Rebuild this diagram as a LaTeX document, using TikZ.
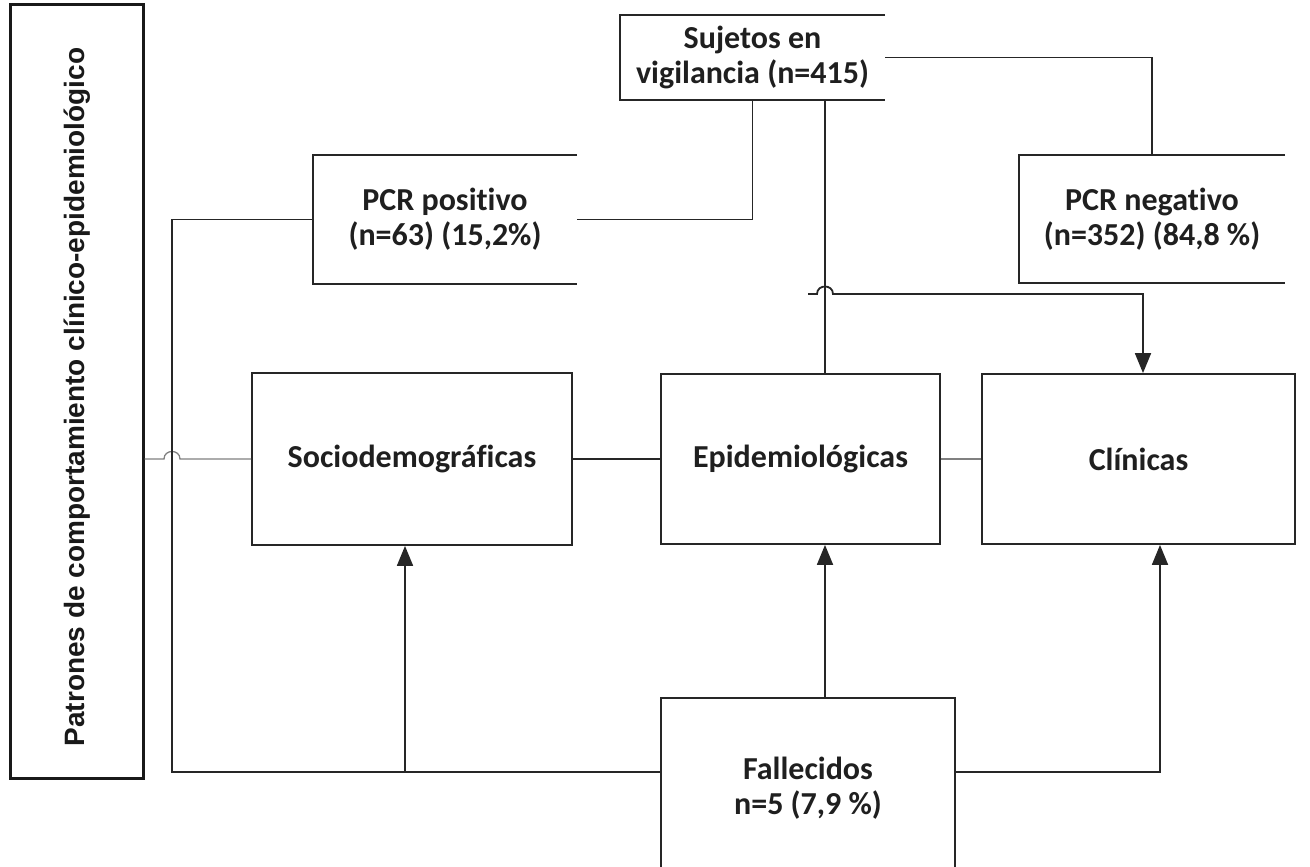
\documentclass[tikz,border=0pt]{standalone}
\usepackage{fontspec}
\setmainfont{Carlito}[Ligatures=NoCommon]
\newfontfamily\arialfont{Liberation Sans}
\usetikzlibrary{arrows.meta}

\begin{document}
\begin{tikzpicture}[x=1pt,y=-1pt,
  box/.style={draw=black!85, line width=1.8pt, fill=white, inner sep=0pt,
    align=center, font=\fontsize{32}{35}\selectfont\bfseries, text=black!88},
  openbox/.style={inner sep=0pt, align=center,
    font=\fontsize{32}{35}\selectfont\bfseries, text=black!88},
  edge/.style={draw=black!85, line width=1.8pt},
  outline/.style={draw=black!85, line width=1.8pt},
  faint/.style={draw=black!50, line width=1.3pt},
  arr/.style={-{Triangle[width=16pt,length=20pt]}}]

\useasboundingbox (0,0) rectangle (1310,867);

% columns and rows used by the connectors
\coordinate (c172) at (172,0);
\coordinate (c405) at (405,0);
\coordinate (c825) at (825,0);
\coordinate (c1143) at (1143,0);
\coordinate (c1160) at (1160,0);
\coordinate (r294) at (0,294);
\coordinate (r772) at (0,772);

% title box
\node[draw=black!90, line width=3pt, minimum width=133pt, minimum height=773pt, inner sep=0pt]
  (lbox) at (76.5,391.5) {};
\node[rotate=90, font=\arialfont\bfseries\fontsize{28}{32}\selectfont, text=black!90]
  (ltext) at (77,397) {Patrones de comportamiento clínico-epidemiológico};

% boxes with an open right side
\node[openbox, minimum width=265pt, minimum height=85pt] (suj) at (752.5,57.5)
  {Sujetos en\\vigilancia (n=415)};
\draw[outline] (suj.north east) -- (suj.north west) -- (suj.south west) -- (suj.south east);

\node[openbox, minimum width=264pt, minimum height=129pt] (pcrp) at (445,219.5)
  {PCR positivo\\(n=63) (15,2\%)};
\draw[outline] (pcrp.north east) -- (pcrp.north west) -- (pcrp.south west) -- (pcrp.south east);

\node[openbox, minimum width=266pt, minimum height=128pt] (pcrn) at (1152,219)
  {PCR negativo\\(n=352) (84,8 \%)};
\draw[outline] (pcrn.north east) -- (pcrn.north west) -- (pcrn.south west) -- (pcrn.south east);

% category boxes
\node[box, minimum width=320pt, minimum height=172pt] (socio) at (412,459) {Sociodemográficas};
\node[box, minimum width=279pt, minimum height=170pt] (epi) at (800.5,459) {Epidemiológicas};
\node[box, minimum width=313pt, minimum height=170pt] (clin) at (1138.5,459) {Clínicas};

% deceased box, running past the lower edge
\node[box, minimum width=294pt, minimum height=180pt] (fall) at (808,788)
  {Fallecidos\\n=5 (7,9 \%)};

% connectors
\draw[faint] (lbox.east |- socio.west) -- (164,459)
  .. controls (164,449) and (180,449) .. (180,459) -- (socio.west);
\draw[edge] (socio.east) -- (epi.west);
\draw[faint] (epi.east) -- (clin.west);

\draw[edge] (suj.south) |- (pcrp.east);
\draw[edge] (suj.south -| c825) -- (epi.north -| c825);
\draw[edge] (suj.east) -| (pcrn.north);

\coordinate (hopstart) at (808,294);
\draw[edge, arr] (hopstart) -- (817,294)
  .. controls (817,284) and (833,284) .. (833,294) -- (c1143 |- r294) -- (clin.north -| c1143);

\draw[edge] (pcrp.west) -| (c172 |- r772) -- (fall.west |- r772);
\draw[edge, arr] (c405 |- r772) -- (socio.south -| c405);
\draw[edge, arr] (fall.north -| c825) -- (epi.south -| c825);
\draw[edge, arr] (fall.east |- r772) -| (clin.south -| c1160);

\end{tikzpicture}
\end{document}
